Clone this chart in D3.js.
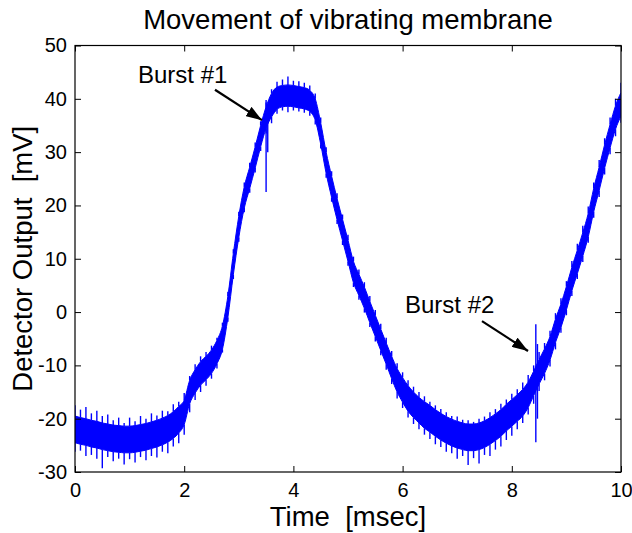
<!DOCTYPE html>
<html>
<head>
<meta charset="utf-8">
<script src="https://cdn.jsdelivr.net/npm/d3@7"></script>
<style>
  html, body { margin: 0; padding: 0; background: #fff; }
  svg text { font-family: "Liberation Sans", Arial, Helvetica, sans-serif; fill: #000; white-space: pre; }
</style>
</head>
<body>
<svg id="chart" width="632" height="533"></svg>
<script>
// ---- data ----
const times = d3.range(0, 101).map(i => i / 10); // msec, 0.1 ms apart
// solid core of the noisy trace
const coreTop = [
  -19.5,-19.8,-20,-20.3,-20.5,-20.8,-21,-21.2,-21.3,-21.4,
  -21.4,-21.3,-21.1,-20.9,-20.6,-20.3,-19.9,-19.4,-18.7,-17.7,
  -16.5,-12.8,-10.8,-9.3,-8.3,-7.1,-5.3,-2.6,3,11,
  18,23.5,27.2,31,35,38.5,41,42.2,42.5,42.6,
  42.5,42.3,42.1,41.6,40,35.5,30,25.5,21.3,17.4,
  13.5,9.5,7.1,4.7,2,-0.6,-3.2,-5.8,-8.3,-10.6,
  -12.3,-13.8,-15,-16,-16.8,-17.5,-18.3,-19,-19.6,-20.1,
  -20.5,-20.8,-21,-21,-20.8,-20.4,-19.8,-19.1,-18.3,-17.3,
  -16.4,-15.5,-14.5,-13.1,-11.1,-8.9,-6.9,-4.6,-1.3,1.5,
  4.8,8.4,11.6,14.9,18.5,23.2,27.2,31.4,35.2,38.7,
  41.2
];
const coreBottom = [
  -24.5,-24.8,-25,-25.3,-25.5,-25.8,-26,-26.2,-26.3,-26.4,
  -26.4,-26.3,-26.1,-25.9,-25.6,-25.3,-24.9,-24.4,-23.7,-22.7,
  -21.1,-17.2,-15.2,-13.7,-12.7,-11.5,-9.7,-7,-1,7,
  14,19.5,23.2,27,31,34.5,36.6,38,38.5,38.6,
  38.5,38.3,38.1,37.6,36,31.5,26,21.5,17.3,13.4,
  9.5,5.5,3.1,0.7,-2,-4.6,-7.2,-9.8,-12.5,-15,
  -16.9,-18.6,-19.8,-20.8,-21.8,-22.5,-23.3,-24,-24.6,-25.1,
  -25.5,-25.8,-26,-26,-25.8,-25.4,-24.8,-24.1,-23.3,-22.3,
  -21.4,-20.5,-19.5,-17.9,-15.7,-13.5,-11.5,-9,-5.7,-2.9,
  0.4,4,7.2,10.5,14.1,18.8,22.8,27,30.8,34.3,
  36.8
];
// tips of the noise spikes above / below the core in each 0.1 ms bin
const spikeTop = [
  -17.5,-18.3,-17.8,-19,-18.5,-19.5,-19.2,-20.3,-19.8,-20.8,
  -19.8,-20.5,-19.5,-20,-19,-19.4,-18.5,-18.6,-17.3,-16.8,
  -15.2,-12,-9.8,-8.3,-7.5,-6.3,-4.8,-2,3.8,11.8,
  18.8,24.3,28,31.8,35.8,39.3,41.8,43.2,43.6,44.2,
  43.4,43.3,43,42.5,41,36.5,30.9,26.4,22.3,18.3,
  14.5,10.4,8,5.6,3,0.4,-2.2,-4.8,-7.3,-9.6,
  -11.3,-12.8,-14,-15,-15.8,-16.8,-17.5,-18.2,-18.8,-19.5,
  -19.6,-20.2,-20.3,-20.6,-20,-19.6,-18.8,-18.2,-17.2,-16.4,
  -15.3,-14.5,-13.2,-11.8,-10,-7.5,-5.8,-3.5,-0.2,2.6,
  5.8,9.6,12.8,16.2,19.8,24.3,28.5,32.6,36.5,40,
  43
];
const spikeBottom = [
  -26.2,-26,-27,-26.8,-27.5,-29.3,-27.2,-28,-27.5,-28.6,
  -27.6,-28.2,-27.2,-27.8,-27,-27.3,-26.2,-26.5,-25.2,-24.6,
  -23,-18.8,-16.5,-15,-13.8,-12.5,-10.6,-7.6,-1.8,6.2,
  13.2,18.7,22.4,26.2,30.2,33.5,35.4,37.2,37.8,37.5,
  37.8,37.6,37.4,36.8,35.2,30.7,25.2,20.7,16.5,12.6,
  8.7,4.7,2.3,-0.1,-2.8,-5.5,-8.1,-10.8,-13.5,-16.2,
  -18,-19.8,-21,-22,-23,-23.8,-24.8,-25.3,-26.2,-26.5,
  -27.5,-27,-28.7,-27.4,-28.4,-26.8,-27,-25.8,-25.2,-24,
  -23.2,-22,-20.8,-19.2,-17.2,-14.8,-12.8,-10.2,-7,-3.9,
  -0.6,3,6.2,9.4,13,17.7,21.6,25.8,29.6,33,
  35.5
];
// burst glitches: [time, from mV, to mV]
const bursts = [
  [3.50, 22.5, 39.8], [3.53, 30, 38.5], [8.44, -24.4, -2.3], [8.47, -20, -6]
];
const annotations = [
  { label: "Burst #1", tx: 1.154, tv: 43.0, from: [2.564, 41.7], to: [3.425, 36.0] },
  { label: "Burst #2", tx: 6.044, tv: -0.2, from: [7.454, -1.7], to: [8.297, -7.3] }
];
const xTicks = [0, 2, 4, 6, 8, 10];
const yTicks = [-30, -20, -10, 0, 10, 20, 30, 40, 50];
const titleText = "Movement of vibrating membrane";
const xLabel = "Time  [msec]";
const yLabel = "Detector Output  [mV]";

// ---- layout ----
const L = 75, R = 621, T = 45.5, B = 472;
const svg = d3.select("#chart");
const x = d3.scaleLinear().domain([0, 10]).range([L, R]);
const y = d3.scaleLinear().domain([-30, 50]).range([B, T]);

const blue = "#0000ff";
const rows = times.map((t, i) => ({
  t, ct: coreTop[i], cb: coreBottom[i], st: spikeTop[i], sb: spikeBottom[i]
}));

svg.append("clipPath").attr("id", "plotclip")
  .append("rect").attr("x", L).attr("y", T).attr("width", R - L).attr("height", B - T);

const g = svg.append("g").attr("clip-path", "url(#plotclip)");
g.append("path")
  .datum(rows)
  .attr("d", d3.area().x(d => x(d.t)).y0(d => y(d.cb)).y1(d => y(d.ct)).curve(d3.curveMonotoneX))
  .attr("fill", blue)
  .attr("stroke", blue)
  .attr("stroke-width", 1);

g.selectAll("line.up").data(rows).join("line")
  .attr("class", "up")
  .attr("x1", d => x(d.t)).attr("x2", d => x(d.t))
  .attr("y1", d => y(d.ct)).attr("y2", d => y(d.st))
  .attr("stroke", blue).attr("stroke-width", 1.4);
g.selectAll("line.down").data(rows).join("line")
  .attr("class", "down")
  .attr("x1", d => x(d.t)).attr("x2", d => x(d.t))
  .attr("y1", d => y(d.cb)).attr("y2", d => y(d.sb))
  .attr("stroke", blue).attr("stroke-width", 1.4);

g.selectAll("line.burst").data(bursts).join("line")
  .attr("class", "burst")
  .attr("x1", d => x(d[0])).attr("x2", d => x(d[0]))
  .attr("y1", d => y(d[1])).attr("y2", d => y(d[2]))
  .attr("stroke", blue).attr("stroke-width", 1.4);

// ---- axes (box with inward ticks) ----
const tickLen = 6;
const plainFmt = d => String(d); // ASCII hyphen for negatives, as in the reference
svg.append("g").attr("transform", `translate(0,${B})`)
  .call(d3.axisBottom(x).tickValues(xTicks).tickSizeInner(-tickLen).tickSizeOuter(0).tickPadding(11).tickFormat(plainFmt))
  .call(a => a.select(".domain").remove());
svg.append("g").attr("transform", `translate(0,${T})`)
  .call(d3.axisTop(x).tickValues(xTicks).tickSizeInner(-tickLen).tickSizeOuter(0).tickFormat(""))
  .call(a => a.select(".domain").remove());
svg.append("g").attr("transform", `translate(${L},0)`)
  .call(d3.axisLeft(y).tickValues(yTicks).tickSizeInner(-tickLen).tickSizeOuter(0).tickPadding(8).tickFormat(plainFmt))
  .call(a => a.select(".domain").remove());
svg.append("g").attr("transform", `translate(${R},0)`)
  .call(d3.axisRight(y).tickValues(yTicks).tickSizeInner(-tickLen).tickSizeOuter(0).tickFormat(""))
  .call(a => a.select(".domain").remove());

svg.selectAll(".tick line").attr("stroke", "#000").attr("stroke-width", 1);
svg.selectAll(".tick text").attr("font-size", 20).attr("fill", "#000")
  .style("font-family", "'Liberation Sans', Arial, sans-serif");

svg.append("rect").attr("x", L).attr("y", T).attr("width", R - L).attr("height", B - T)
  .attr("fill", "none").attr("stroke", "#000").attr("stroke-width", 1.2);

// ---- titles ----
svg.append("text").attr("x", (L + R) / 2).attr("y", 28.5).attr("text-anchor", "middle")
  .attr("font-size", 27.5).text(titleText);
svg.append("text").attr("x", (L + R) / 2).attr("y", 526).attr("text-anchor", "middle")
  .attr("font-size", 27.5).text(xLabel);
svg.append("text").attr("transform", `translate(32,${(T + B) / 2}) rotate(-90)`)
  .attr("text-anchor", "middle").attr("font-size", 27.5).text(yLabel);

// ---- annotations ----
const defs = svg.append("defs");
defs.append("marker").attr("id", "arrowhead").attr("viewBox", "0 0 16 11")
  .attr("refX", 16).attr("refY", 5.5).attr("markerWidth", 16).attr("markerHeight", 11)
  .attr("markerUnits", "userSpaceOnUse").attr("orient", "auto")
  .append("path").attr("d", "M0,0 L16,5.5 L0,11 Z").attr("fill", "#000");

annotations.forEach(a => {
  svg.append("text").attr("x", x(a.tx)).attr("y", y(a.tv)).attr("font-size", 24).text(a.label);
  svg.append("line")
    .attr("x1", x(a.from[0])).attr("y1", y(a.from[1]))
    .attr("x2", x(a.to[0])).attr("y2", y(a.to[1]))
    .attr("stroke", "#000").attr("stroke-width", 2.2)
    .attr("marker-end", "url(#arrowhead)");
});
</script>
</body>
</html>
